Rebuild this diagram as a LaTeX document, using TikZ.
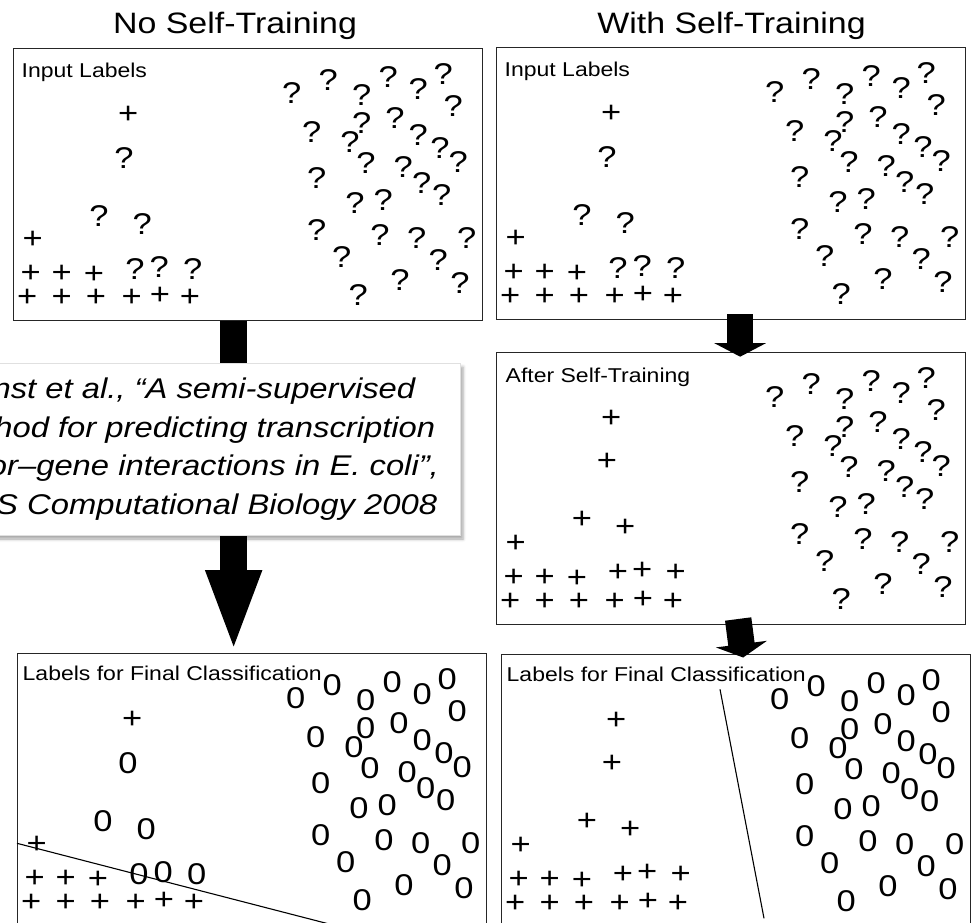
\documentclass[tikz,border=0pt]{standalone}
\usepackage{fontspec}
\setmainfont{Liberation Sans}[FakeStretch=1.15]
\usetikzlibrary{arrows.meta,positioning,shadows.blur}

% scattered points, placed relative to the box corner
\newcommand{\rightcloud}[2]{%
  \foreach \cx/\cy [count=\k] in {278.7/45.3, 315.3/32, 348.7/47, 375.3/28.7,
      405.3/41.3, 430.3/26, 440.3/58, 298.7/83.7, 348.7/75.3, 382/70.3,
      405.3/87, 337/93.7, 427/100.3, 445.3/113.7, 353/115.3, 390.3/118.7,
      303.7/130.3, 408.7/135.3, 428.7/147, 342/155.3, 370.3/152, 303.7/182,
      367/187, 403.7/190.3, 453.7/190.3, 328.7/208.7, 425.3/212, 387/232,
      447/235.3, 345.3/247}
    \node[sym] (#1-r\k) at (\cx,\cy) {#2};}
\newcommand{\leftcloud}[2]{%
  \foreach \cx/\cy [count=\k] in {115.3/65.3, 19.7/190.3, 17.7/223.7,
      48.7/223.7, 81/225.3, 14.3/248, 48.7/248, 83/248, 118.7/248,
      147/246, 177/248}
    \node[sym, plus] (#1-p\k) at (\cx,\cy) {+};
  \foreach \cx/\cy [count=\k] in {111/110.3, 86/168, 129.3/176,
      122/221.3, 146.3/218.7, 179.7/221.3}
    \node[sym] (#1-q\k) at (\cx,\cy) {#2};}

\begin{document}
\begin{tikzpicture}[
  x=1pt, y=-1pt,
  box/.style={draw=black!85, line width=1.3pt, anchor=north west, inner sep=0pt,
    minimum width=469pt, minimum height=272pt},
  sym/.style={font=\fontsize{30}{36}\selectfont, inner sep=0pt},
  plus/.style={yshift=-1.7pt},
  tag/.style={font=\fontsize{20}{24}\selectfont, anchor=base west, inner sep=0pt},
  heading/.style={font=\fontsize{29.5}{35}\selectfont, anchor=base, inner sep=0pt},
  cite/.style={draw=black!12, fill=white, align=center,
    font=\fontsize{28.5}{38.5}\selectfont\itshape,
    minimum width=545pt, minimum height=172pt,
    blur shadow={shadow xshift=3pt, shadow yshift=-4pt, shadow blur radius=3pt, shadow opacity=35}},
  flow/.style={draw=black, line width=26.5pt,
    -{Triangle[length=13.5pt 0 0, width=51pt 0 0]}},
  bigflow/.style={flow, -{Triangle[length=83pt 0 0, width=50pt 0 0]}},
  sepline/.style={line width=1.1pt}
]
\useasboundingbox (0,0) rectangle (974,923);
\clip (0,0) rectangle (974,923);

\node[heading] (titleL) at (235,34) {No Self-Training};
\node[heading] (titleR) at (731.5,34) {With Self-Training};

\node[box] (inL) at (13,48) {};
\node[box] (inR) at (496,47) {};
\node[box] (aft) at (496,352) {};
\node[box] (finL) at (17,653) {};
\node[box] (finR) at (501,654) {};

\begin{scope}[shift={(inL.north west)}]
  \node[tag] (inL-tag) at (8.5,30) {Input Labels};
  \leftcloud{inL}{?}
  \rightcloud{inL}{?}
\end{scope}
\begin{scope}[shift={(inR.north west)}]
  \node[tag] (inR-tag) at (8.5,30) {Input Labels};
  \leftcloud{inR}{?}
  \rightcloud{inR}{?}
\end{scope}
\begin{scope}[shift={(aft.north west)}]
  \node[tag] (aft-tag) at (9.5,30) {After Self-Training};
  \leftcloud{aft}{+}
  \rightcloud{aft}{?}
\end{scope}
\begin{scope}[shift={(finL.north west)}]
  \node[tag] (finL-tag) at (5.5,27) {Labels for Final Classification};
  \leftcloud{finL}{0}
  \rightcloud{finL}{0}
\end{scope}
\begin{scope}[shift={(finR.north west)}]
  \node[tag] (finR-tag) at (5.5,27) {Labels for Final Classification};
  \leftcloud{finR}{+}
  \rightcloud{finR}{0}
\end{scope}

% separating lines
\draw[sepline] ([shift={(0,190.3)}]finL.north west) -- ([shift={(340,278.2)}]finL.north west);
\draw[sepline] ([shift={(219,35.3)}]finR.north west) -- ([shift={(263,264.3)}]finR.north west);

% arrows
\coordinate (bigtop) at ([xshift=-14.5pt]inL.south);
\draw[bigflow] (bigtop) -- (bigtop |- finL.north);
\draw[flow] ([shift={(9,-6.3)}]inR.south) -- ([shift={(9,4.7)}]aft.north);
\draw[flow] ([shift={(7,-6.3)}]aft.south) -- ([shift={(7,3.5)}]finR.north);

\node[cite] (paper) at (187.5,449) {Ernst et al., “A semi-supervised\\
  method for predicting transcription\\
  factor–gene interactions in E. coli”,\\
  PLoS Computational Biology 2008};
\end{tikzpicture}
\end{document}
